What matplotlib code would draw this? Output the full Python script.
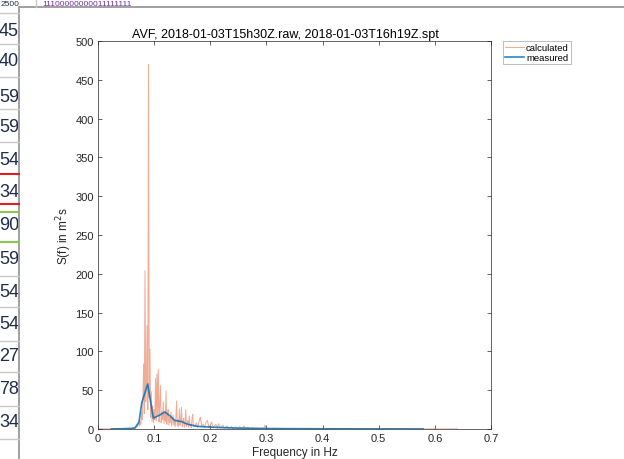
import numpy as np
import matplotlib
matplotlib.use("Agg")
import matplotlib.pyplot as plt
from matplotlib.patches import Rectangle

plt.rcParams['font.family'] = ['Liberation Sans', 'DejaVu Sans']

# ---------------- data ----------------
title = "AVF, 2018-01-03T15h30Z.raw, 2018-01-03T16h19Z.spt"
xlabel = "Frequency in Hz"
ylabel = "S(f) in m$^2$s"
legend_labels = ["calculated", "measured"]

# calculated spectrum: low tail, fine region (df = 0.00125 from 0.07),
# coarse region (df = 0.0025 from 0.1725), high tail
calc_low_f = [0.0, 0.01, 0.02, 0.03, 0.04, 0.05, 0.055, 0.06, 0.0625, 0.065, 0.0675]
calc_low_v = [0.2, 0.1, 0.1, 0.1, 0.2, 0.2, 0.3, 0.3, 0.8, 0.5, 2]
calc_fine_start = 0.07
calc_fine_step = 0.00125
calc_fine_v = [
    3, 5, 8, 4, 10, 6, 22, 12, 40, 84,
    20, 204, 35, 60, 133, 25, 470, 40, 103, 15,
    48, 10, 30, 8, 25, 12, 65, 10, 71, 18,
    77, 9, 30, 56, 8, 22, 12, 35, 7, 20,
    10, 49, 6, 18, 25, 5, 15, 8, 22, 4,
    12, 18, 5, 10, 3, 15, 36, 4, 12, 3,
    26, 5, 10, 28, 3, 9, 14, 2, 8, 25,
    3, 7, 11, 2, 17, 4, 6, 2, 14, 19,
    3,
]
calc_coarse_start = 0.1725
calc_coarse_step = 0.0025
calc_coarse_v = [
    4, 8, 2, 10, 15, 3, 6, 2, 9, 11,
    2, 5, 9, 1.5, 4, 6, 1, 7, 2, 3,
    5, 1, 2.5, 4, 0.8, 2, 3, 0.6, 1.5, 2.5,
    0.5, 1.2, 3, 0.4, 1, 4, 0.5, 1, 2, 0.3,
    0.8, 1.5, 0.3, 0.6, 1, 0.3, 0.5, 0.8, 0.2, 0.4,
    5, 0.3,
]
calc_high_f = [0.31, 0.32, 0.33, 0.34, 0.35, 0.36, 0.37, 0.38, 0.39, 0.40,
               0.41, 0.42, 0.43, 0.44, 0.45, 0.46, 0.47, 0.48, 0.49, 0.50,
               0.51, 0.52, 0.53, 0.54, 0.55, 0.56, 0.57, 0.58, 0.59, 0.60,
               0.61, 0.62, 0.63, 0.64]
calc_high_v = [0.5, 0.3, 0.6, 0.2, 0.4, 0.3, 0.5, 0.2, 0.3, 0.4,
               0.2, 0.3, 0.2, 0.3, 0.2, 0.2, 0.3, 0.1, 0.2, 0.2,
               0.1, 0.2, 0.1, 0.2, 0.1, 0.1, 0.2, 0.1, 0.1, 0.1,
               0.1, 0.1, 0.1, 0.1]

meas_f = [0.024, 0.03, 0.04, 0.05, 0.06, 0.066, 0.073, 0.078, 0.0885, 0.0985,
          0.11, 0.119, 0.128, 0.137, 0.149, 0.158, 0.167, 0.176, 0.19, 0.2,
          0.22, 0.25, 0.3, 0.35, 0.4, 0.45, 0.5, 0.55, 0.579]
meas_v = [0.1, 0.2, 0.3, 0.5, 0.8, 1.5, 9, 34, 58, 14,
          18, 22, 17, 11, 9.5, 6.5, 5, 3.5, 2.8, 2.5,
          1.8, 1.2, 0.6, 0.4, 0.3, 0.2, 0.15, 0.1, 0.1]

xticks = [0, 0.1, 0.2, 0.3, 0.4, 0.5, 0.6, 0.7]
xticklabels = ["0", "0.1", "0.2", "0.3", "0.4", "0.5", "0.6", "0.7"]
yticks = [0, 50, 100, 150, 200, 250, 300, 350, 400, 450, 500]

# background spreadsheet fragments (screenshot context)
cell_texts = ["45", "40", "59", "59", "54", "34", "90", "59", "54", "54", "27", "78", "34"]
cell_rows = [31, 62, 97, 128, 161, 193, 226, 260, 293, 325, 357, 390, 423]
top_row_texts = ["2500", "11100000000011111111"]

# ---------------- figure ----------------
fig = plt.figure(figsize=(6.24, 4.6), dpi=100)
fig.patch.set_facecolor('white')

# background layer (pixel coordinates)
bg = fig.add_axes([0, 0, 1, 1], zorder=0)
bg.set_xlim(0, 624)
bg.set_ylim(460, 0)
bg.axis('off')
for yy in [14, 45, 78, 110, 143, 277, 308, 342, 373, 407, 440]:
    bg.plot([0, 19], [yy, yy], color='#c8c8c8', lw=1)
bg.plot([0, 19], [175, 175], color='#e02020', lw=1.5)
bg.plot([0, 19], [205, 205], color='#e02020', lw=1.5)
bg.plot([0, 19], [213, 213], color='#8cc850', lw=1.5)
bg.plot([0, 19], [243, 243], color='#8cc850', lw=1.5)
bg.plot([36, 36], [0, 8], color='#c8c8c8', lw=1)
bg.add_patch(Rectangle((19, 8), 620, 460, facecolor='white', edgecolor='#909090', lw=1.2))
bg.text(1, 4, top_row_texts[0], color='#1f2d4d', fontsize=6, va='center', ha='left')
bg.text(42, 4, top_row_texts[1], color='#7030A0', fontsize=6, va='center', ha='left')

cells = fig.add_axes([0, 0, 18 / 624, 1], zorder=0.5)
cells.set_xlim(0, 18)
cells.set_ylim(460, 0)
cells.axis('off')
for t, yy in zip(cell_texts, cell_rows):
    cells.text(-1, yy, t, color='#1f2d4d', fontsize=13, va='center', ha='left', clip_on=True)

# main axes
ax = fig.add_axes([98 / 624, 30 / 460, 393 / 624, 388 / 460], zorder=2)
calc_fine_f = [round(calc_fine_start + i * calc_fine_step, 5) for i in range(len(calc_fine_v))]
calc_coarse_f = [round(calc_coarse_start + i * calc_coarse_step, 5) for i in range(len(calc_coarse_v))]
calc_f = calc_low_f + calc_fine_f + calc_coarse_f + calc_high_f
calc_v = calc_low_v + calc_fine_v + calc_coarse_v + calc_high_v

ax.plot(calc_f, calc_v, color='#E8704A', lw=0.7, alpha=0.6, label=legend_labels[0])
ax.plot(meas_f, meas_v, color='#0072BD', lw=1.2, alpha=0.85, label=legend_labels[1])

ax.set_xlim(0, 0.7)
ax.set_ylim(0, 500)
ax.set_xticks(xticks)
ax.set_xticklabels(xticklabels)
ax.set_yticks(yticks)
ax.tick_params(direction='in', length=3, width=0.5, top=True, right=True,
               labelsize=8, colors='#262626', pad=3)
for s in ax.spines.values():
    s.set_color('#262626')
    s.set_linewidth(0.5)

ax.set_title(title, fontsize=9, color='black', pad=3, x=0.478)
ax.set_xlabel(xlabel, fontsize=8.5, color='#262626', labelpad=2)
ax.set_ylabel(ylabel, fontsize=8.5, color='#262626')
ax.yaxis.set_label_coords(-0.062, 0.5)

leg = ax.legend(loc='upper left', bbox_to_anchor=(1.03, 1.0), fontsize=6.8,
                frameon=True, fancybox=False, edgecolor='#a0a0a0',
                handlelength=2.0, handletextpad=0.2, borderpad=0.25,
                labelspacing=0.05, borderaxespad=0)
leg.get_frame().set_linewidth(0.6)

fig.savefig('out.png', dpi=100)
